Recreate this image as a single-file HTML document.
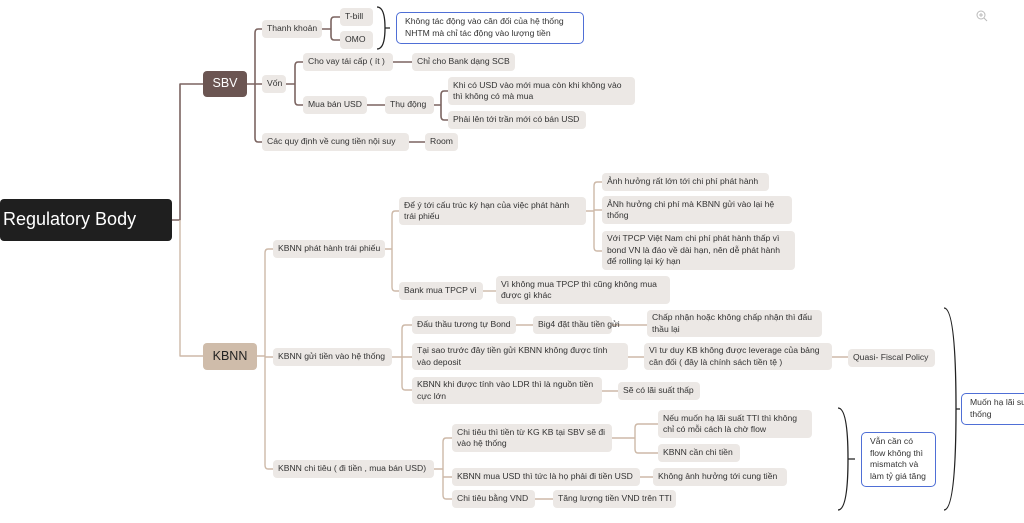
<!DOCTYPE html>
<html><head><meta charset="utf-8"><style>
body{margin:0;width:1024px;height:523px;background:#fff;overflow:hidden;position:relative;font-family:"Liberation Sans",sans-serif}
.n{position:absolute;background:#ece8e5;border-radius:4px;font-size:8.6px;color:#333;padding:0 5px;box-sizing:border-box;display:flex;align-items:center;line-height:11.5px;white-space:nowrap}
.w{white-space:normal}
.b{position:absolute;border:1.5px solid #4f6fd6;border-radius:5px;font-size:8.6px;color:#333;padding:3px 8px;box-sizing:border-box;line-height:11.5px;background:#fff}
svg{position:absolute;left:0;top:0}
</style></head><body>
<svg width="1024" height="523" fill="none" stroke-linejoin="round">
<g stroke="#7b6460" stroke-width="1.6">
<path d="M172 220H180V84H203"/>
<path d="M247 84H255M262 29H258Q255 29 255 33V138Q255 142 258 142H262M255 84H262"/>
<path d="M322 29H331M340 17H334Q331 17 331 21V36Q331 40 334 40H340"/>
<path d="M286 84H295M303 62H298Q295 62 295 66V101Q295 105 298 105H303"/>
<path d="M393 62H412M367 105H385M434 105H441M448 91H444Q441 91 441 95V116Q441 120 444 120H448M409 142H425"/>
</g>
<g stroke="#cdb9a8" stroke-width="1.4">
<path d="M180 220V356H203"/>
<path d="M257 356H265M273 249H268Q265 249 265 253V465Q265 469 268 469H273M265 357H273"/>
<path d="M385 249H392M399 211H395Q392 211 392 215V287Q392 291 395 291H399"/>
<path d="M586 211H594M602 182H597Q594 182 594 186V247Q594 251 597 251H602M594 210H602"/>
<path d="M483 291H496"/>
<path d="M392 357H402M412 325H405Q402 325 402 329V386Q402 390 405 390H412M402 357H412"/>
<path d="M516 325H533M612 325H647M628 357H644M832 357H848M602 391H618"/>
<path d="M434 469H443M452 438H446Q443 438 443 442V495Q443 499 446 499H452M443 477H452"/>
<path d="M612 438H635M658 424H638Q635 424 635 428V449Q635 453 638 453H658"/>
<path d="M640 477H653M535 499H553"/>
</g>
<g stroke="#222" stroke-width="1.3">
<path d="M377 7Q385 7 385 28Q385 49 377 49M385 28H390"/>
<path d="M838 408Q848 408 848 459Q848 510 838 510M848 459H855"/>
<path d="M944 308Q956 308 956 409Q956 510 944 510M956 409H960"/>
</g>
<g stroke="#bbb" stroke-width="1"><circle cx="981" cy="15" r="4"/><path d="M984 18L987 21M979 15H983M981 13V17"/></g>
</svg>
<div class="n" style="left:0;top:199px;width:172px;height:42px;background:#1f1f1f;color:#fff;font-size:18px;padding-left:3px">Regulatory Body</div>
<div class="n" style="left:203px;top:71px;width:44px;height:26px;background:#6b5552;color:#fff;font-size:12.5px;justify-content:center">SBV</div>
<div class="n" style="left:203px;top:343px;width:54px;height:27px;background:#cfbcaa;color:#222;font-size:12.5px;justify-content:center">KBNN</div>

<div class="n" style="left:262px;top:20px;width:60px;height:18px">Thanh khoản</div>
<div class="n" style="left:340px;top:8px;width:33px;height:18px">T-bill</div>
<div class="n" style="left:340px;top:31px;width:33px;height:18px">OMO</div>
<div class="b" style="left:396px;top:12px;width:188px;height:32px">Không tác động vào cân đối của hệ thống NHTM mà chỉ tác động vào lượng tiền</div>
<div class="n" style="left:262px;top:75px;width:24px;height:18px">Vốn</div>
<div class="n" style="left:303px;top:53px;width:90px;height:18px">Cho vay tái cấp ( ít )</div>
<div class="n" style="left:412px;top:53px;width:103px;height:18px">Chỉ cho Bank dạng SCB</div>
<div class="n" style="left:303px;top:96px;width:64px;height:18px">Mua bán USD</div>
<div class="n" style="left:385px;top:96px;width:49px;height:18px">Thụ động</div>
<div class="n w" style="left:448px;top:77px;width:187px;height:28px">Khi có USD vào mới mua còn khi không vào thì không có mà mua</div>
<div class="n" style="left:448px;top:111px;width:138px;height:18px">Phải lên tới trần mới có bán USD</div>
<div class="n" style="left:262px;top:133px;width:147px;height:18px">Các quy định về cung tiền nội suy</div>
<div class="n" style="left:425px;top:133px;width:33px;height:18px">Room</div>

<div class="n" style="left:273px;top:240px;width:112px;height:18px">KBNN phát hành trái phiếu</div>
<div class="n w" style="left:399px;top:197px;width:187px;height:28px">Để ý tới cấu trúc kỳ hạn của việc phát hành trái phiếu</div>
<div class="n" style="left:602px;top:173px;width:167px;height:18px">Ảnh hưởng rất lớn tới chi phí phát hành</div>
<div class="n w" style="left:602px;top:196px;width:190px;height:28px">ẢNh hưởng chi phí mà KBNN gửi vào lại hệ thống</div>
<div class="n w" style="left:602px;top:231px;width:193px;height:39px">Với TPCP Việt Nam chi phí phát hành thấp vì bond VN là đáo về dài hạn, nên dễ phát hành để rolling lại kỳ hạn</div>
<div class="n" style="left:399px;top:282px;width:84px;height:18px">Bank mua TPCP vì</div>
<div class="n w" style="left:496px;top:276px;width:174px;height:28px">Vì không mua TPCP thì cũng không mua được gì khác</div>

<div class="n" style="left:273px;top:348px;width:119px;height:18px">KBNN gửi tiền vào hệ thống</div>
<div class="n" style="left:412px;top:316px;width:104px;height:18px">Đấu thầu tương tự Bond</div>
<div class="n" style="left:533px;top:316px;width:79px;height:18px">Big4 đặt thầu tiền gửi</div>
<div class="n w" style="left:647px;top:310px;width:175px;height:27px">Chấp nhận hoặc không chấp nhận thì đấu thầu lại</div>
<div class="n w" style="left:412px;top:343px;width:216px;height:27px">Tại sao trước đây tiền gửi KBNN không được tính vào deposit</div>
<div class="n w" style="left:644px;top:343px;width:188px;height:27px">Vì tư duy KB không được leverage của bảng cân đối ( đây là chính sách tiền tệ )</div>
<div class="n" style="left:848px;top:349px;width:87px;height:18px">Quasi- Fiscal Policy</div>
<div class="n w" style="left:412px;top:377px;width:190px;height:27px">KBNN khi được tính vào LDR thì là nguồn tiền cực lớn</div>
<div class="n" style="left:618px;top:382px;width:82px;height:18px">Sẽ có lãi suất thấp</div>

<div class="n" style="left:273px;top:460px;width:161px;height:18px">KBNN chi tiêu ( đi tiền , mua bán USD)</div>
<div class="n w" style="left:452px;top:424px;width:160px;height:28px">Chi tiêu thì tiền từ KG KB tại SBV sẽ đi vào hệ thống</div>
<div class="n w" style="left:658px;top:410px;width:154px;height:28px">Nếu muốn hạ lãi suất TTI thì không chỉ có mỗi cách là chờ flow</div>
<div class="n" style="left:658px;top:444px;width:82px;height:18px">KBNN cần chi tiền</div>
<div class="n" style="left:452px;top:468px;width:188px;height:18px">KBNN mua USD thì tức là họ phải đi tiền USD</div>
<div class="n" style="left:653px;top:468px;width:134px;height:18px">Không ảnh hưởng tới cung tiền</div>
<div class="n" style="left:452px;top:490px;width:83px;height:18px">Chi tiêu bằng VND</div>
<div class="n" style="left:553px;top:490px;width:123px;height:18px">Tăng lượng tiền VND trên TTI</div>
<div class="b" style="left:861px;top:432px;width:75px;height:55px">Vẫn cần có flow không thì mismatch và làm tỷ giá tăng</div>
<div class="b" style="left:961px;top:393px;width:80px;height:32px;white-space:nowrap">Muốn hạ lãi suất<br>thống</div>
</body></html>
